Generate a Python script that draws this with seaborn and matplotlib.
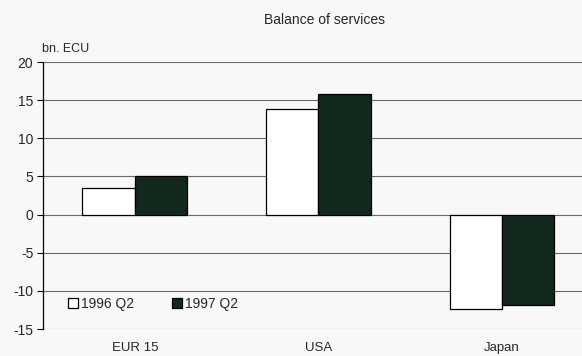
import matplotlib
matplotlib.use("Agg")
import matplotlib.pyplot as plt
from matplotlib.lines import Line2D
import seaborn as sns
import pandas as pd

# Balance of services, bn. ECU
regions = ["EUR 15", "USA", "Japan"]
q2_1996 = [3.5, 13.9, -12.4]
q2_1997 = [5.0, 15.8, -11.8]
periods = ["1996 Q2", "1997 Q2"]
y_ticks = [20, 15, 10, 5, 0, -5, -10, -15]

df = pd.DataFrame({
    "region": regions * 2,
    "period": [periods[0]] * 3 + [periods[1]] * 3,
    "value": q2_1996 + q2_1997,
})

sns.set_theme(style="white")
plt.rcParams["font.family"] = ["Liberation Sans", "DejaVu Sans"]

bg = "#f8f8f8"
dark = "#0f2b1d"

fig = plt.figure(figsize=(5.82, 3.56), dpi=100, facecolor=bg)
ax = fig.add_axes([0.0739, 0.0758, 0.946, 0.750])
ax.set_facecolor(bg)

sns.barplot(data=df, x="region", y="value", hue="period", order=regions,
            hue_order=periods, palette=["white", dark], width=0.57,
            edgecolor="black", linewidth=0.9, legend=False, ax=ax,
            zorder=3)

ax.set_ylim(-15, 20)
ax.set_xlim(-0.5, 2.5)
ax.set_yticks(y_ticks)
ax.set_yticklabels([str(v) for v in y_ticks], fontsize=10)
ax.tick_params(axis="y", length=4, width=0.8, color="black", pad=3, left=True)
ax.tick_params(axis="x", length=0, pad=9, labelsize=9.5)
ax.set_xlabel("")
ax.set_ylabel("")

for v in y_ticks:
    ax.axhline(v, color="#6a6a6a", linewidth=0.8, linestyle="-", zorder=1)

for side in ["top", "right", "bottom"]:
    ax.spines[side].set_visible(False)
ax.spines["left"].set_color("black")
ax.spines["left"].set_linewidth(0.9)

fig.text(0.558, 0.943, "Balance of services", ha="center", va="center", fontsize=10)
fig.text(0.072, 0.862, "bn. ECU", ha="left", va="center", fontsize=9)

handles = [
    Line2D([], [], marker="s", linestyle="none", markersize=7.5,
           markerfacecolor="white", markeredgecolor="black", markeredgewidth=0.9),
    Line2D([], [], marker="s", linestyle="none", markersize=7.5,
           markerfacecolor=dark, markeredgecolor="black", markeredgewidth=0.9),
]
ax.legend(handles, periods, loc="lower left", bbox_to_anchor=(0.02, 0.02),
          ncol=2, frameon=False, fontsize=10, handletextpad=0.05,
          columnspacing=2.6, handlelength=1.0)

fig.savefig("out.png", dpi=100, facecolor=bg)
